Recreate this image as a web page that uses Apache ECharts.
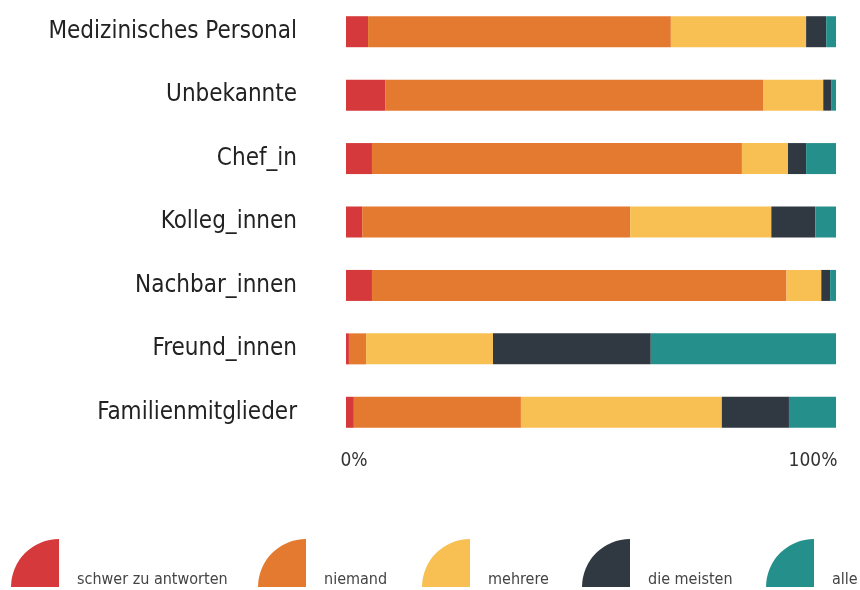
<!DOCTYPE html>
<html><head><meta charset="utf-8">
<script src="https://cdn.jsdelivr.net/npm/echarts@6/dist/echarts.min.js"></script>
<style>html,body{margin:0;padding:0;background:#fff}#c{width:860px;height:590px}</style>
</head><body><div id="c"></div>
<script>
const categories = ['Medizinisches Personal','Unbekannte','Chef_in','Kolleg_innen','Nachbar_innen','Freund_innen','Familienmitglieder'];
const seriesNames = ['schwer zu antworten','niemand','mehrere','die meisten','alle'];
const schwer = [4.5, 8.0, 5.3, 3.3, 5.3, 0.6, 1.6];
const niemand = [61.8, 77.2, 75.5, 54.7, 84.6, 3.5, 34.1];
const mehrere = [27.6, 12.2, 9.4, 28.8, 7.1, 25.9, 41.0];
const dieMeisten = [4.1, 1.6, 3.7, 9.0, 1.8, 32.2, 13.7];
const alle = [2.0, 1.0, 6.1, 4.2, 1.2, 37.8, 9.6];
const tickLabels = ['0%', '100%'];

const colors = ['#d5393b','#e47a2f','#f8bf53','#303842','#258f8c'];
const FONT = '"DejaVu Sans Condensed","Liberation Sans Narrow","Noto Sans",sans-serif';
const dataSets = [schwer, niemand, mehrere, dieMeisten, alle];
const icon = 'path://M48,48 L0,48 A48,48 0 0 1 48,0 Z';
const legendLefts = [11, 258, 422, 582, 766];

const chart = echarts.init(document.getElementById('c'), null, {renderer:'canvas'});
chart.setOption({
  animation:false,
  color: colors,
  grid:{left:346, right:24, top:0, height:444, containLabel:false, outerBoundsMode:'none'},
  xAxis:{type:'value', min:0, max:100, interval:100,
    axisLine:{show:false}, axisTick:{show:false}, splitLine:{show:false},
    axisLabel:{margin:8, fontFamily:FONT, fontSize:19, color:'#333',
      formatter:function(v){return v===0?'{a|'+tickLabels[0]+'}':'{b|'+tickLabels[1]+'}';},
      rich:{a:{fontFamily:FONT,fontSize:19,color:'#333',padding:[0,0,0,16]},
            b:{fontFamily:FONT,fontSize:19,color:'#333',padding:[0,46,0,0]}}}
  },
  yAxis:{type:'category', inverse:true, data:categories,
    axisLine:{show:false}, axisTick:{show:false},
    axisLabel:{margin:49, fontFamily:FONT, fontSize:24, color:'#222', padding:[5,0,0,0]}
  },
  legend: seriesNames.map((n,i)=>({
    data:[{name:n, icon:icon}], left:legendLefts[i], top:539,
    itemWidth:48, itemHeight:48, itemGap:18, padding:0,
    formatter:function(name){return '{t|'+name+'}';},
    textStyle:{fontFamily:FONT, fontSize:16, color:'#444',
      rich:{t:{fontFamily:FONT, fontSize:16, color:'#444', padding:[33,0,0,13]}}},
    selectedMode:false
  })),
  series: seriesNames.map((n,i)=>({
    name:n, type:'bar', stack:'total', barWidth:31,
    data: dataSets[i], itemStyle:{color:colors[i]}
  }))
});
</script></body></html>
